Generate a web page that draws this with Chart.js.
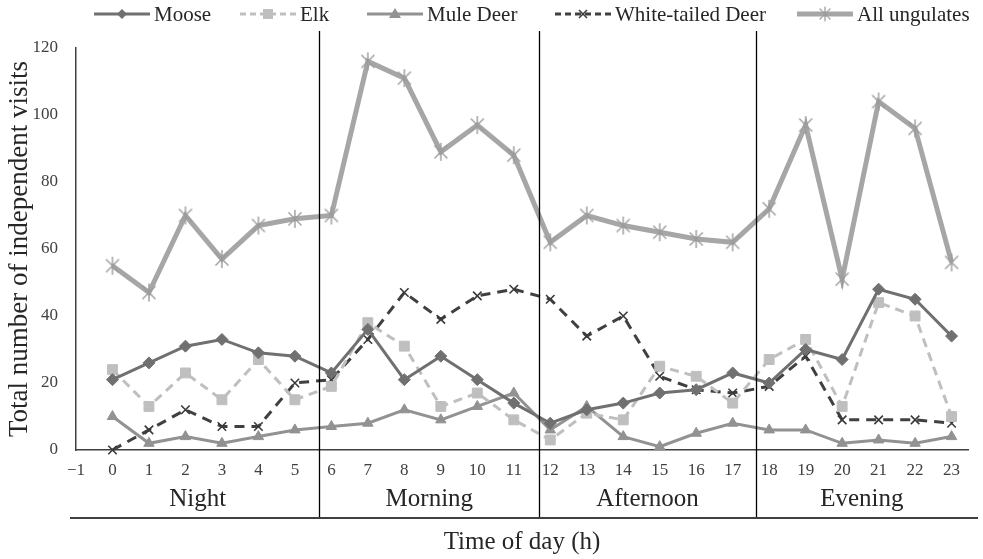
<!DOCTYPE html>
<html>
<head>
<meta charset="utf-8">
<script src="https://cdn.jsdelivr.net/npm/chart.js@4/dist/chart.umd.min.js"></script>
<style>
  html, body { margin: 0; padding: 0; background: #fff; }
  #wrap { width: 983px; height: 559px; }
</style>
</head>
<body>
<div id="wrap"><canvas id="visitsChart" width="983" height="559"></canvas></div>
<script>
'use strict';

// hour of day
var hours = [0, 1, 2, 3, 4, 5, 6, 7, 8, 9, 10, 11, 12, 13, 14, 15, 16, 17, 18, 19, 20, 21, 22, 23];

// independent visits per hour
var moose        = [21, 26, 31, 33, 29, 28, 23, 36, 21, 28, 21, 14, 8, 12, 14, 17, 18, 23, 20, 30, 27, 48, 45, 34];
var elk          = [24, 13, 23, 15, 27, 15, 19, 38, 31, 13, 17, 9, 3, 11, 9, 25, 22, 14, 27, 33, 13, 44, 40, 10];
var muleDeer     = [10, 2, 4, 2, 4, 6, 7, 8, 12, 9, 13, 17, 6, 13, 4, 1, 5, 8, 6, 6, 2, 3, 2, 4];
var whiteTailed  = [0, 6, 12, 7, 7, 20, 21, 33, 47, 39, 46, 48, 45, 34, 40, 22, 18, 17, 19, 28, 9, 9, 9, 8];
var allUngulates = [55, 47, 70, 57, 67, 69, 70, 116, 111, 89, 97, 88, 62, 70, 67, 65, 63, 62, 72, 97, 51, 104, 96, 56];

var seriesNames = ['Moose', 'Elk', 'Mule Deer', 'White-tailed Deer', 'All ungulates'];

// periods of the day and where one ends and the next begins (hours)
var periods = ['Night', 'Morning', 'Afternoon', 'Evening'];
var periodBreaks = [5.67, 11.7, 17.63];

// tick labels
var xTicks = [-1, 0, 1, 2, 3, 4, 5, 6, 7, 8, 9, 10, 11, 12, 13, 14, 15, 16, 17, 18, 19, 20, 21, 22, 23];
var yTicks = [0, 20, 40, 60, 80, 100, 120];

var FONT = '"Liberation Serif", "Times New Roman", serif';

function pts(values) {
  return hours.map(function(h, i) { return { x: h, y: values[i] }; });
}

// asterisk marker for the total line
function asterisk(color) {
  var c = document.createElement('canvas');
  c.width = 22; c.height = 22;
  var g = c.getContext('2d');
  g.strokeStyle = color;
  g.lineWidth = 1.4;
  g.beginPath();
  g.moveTo(11, 2); g.lineTo(11, 20);
  g.moveTo(4.5, 4.5); g.lineTo(17.5, 17.5);
  g.moveTo(17.5, 4.5); g.lineTo(4.5, 17.5);
  g.stroke();
  return c;
}
var starImg = asterisk('#9b9b9b');

var styles = [
  { color: '#707070', width: 3, dash: [], point: 'rectRot', radius: 6 },
  { color: '#bfbfbf', width: 3, dash: [9, 6], point: 'rect', radius: 7 },
  { color: '#929292', width: 3, dash: [], point: 'triangle', radius: 6 },
  { color: '#404040', width: 3, dash: [10, 7], point: 'crossRot', radius: 6 },
  { color: '#a6a6a6', width: 5, dash: [], point: starImg, radius: 10 }
];

var seriesValues = [moose, elk, muleDeer, whiteTailed, allUngulates];

var datasets = seriesValues.map(function(vals, i) {
  var s = styles[i];
  var cross = s.point === 'crossRot';
  return {
    label: seriesNames[i],
    data: pts(vals),
    borderColor: s.color,
    backgroundColor: s.color,
    borderWidth: s.width,
    borderDash: s.dash,
    pointStyle: s.point,
    pointRadius: s.radius,
    pointBorderWidth: cross ? 1.6 : 1,
    pointBorderColor: cross ? '#3a3a3a' : s.color,
    pointBackgroundColor: s.color,
    tension: 0,
    clip: false
  };
});

function drawMarker(ctx, kind, x, y, color) {
  ctx.save();
  ctx.setLineDash([]);
  ctx.fillStyle = color;
  ctx.strokeStyle = color;
  ctx.beginPath();
  if (kind === 'rectRot') {
    ctx.moveTo(x, y - 5); ctx.lineTo(x + 5, y); ctx.lineTo(x, y + 5); ctx.lineTo(x - 5, y);
    ctx.closePath(); ctx.fill();
  } else if (kind === 'rect') {
    ctx.rect(x - 5, y - 5, 10, 10); ctx.fill();
  } else if (kind === 'triangle') {
    ctx.moveTo(x, y - 6); ctx.lineTo(x + 6, y + 4); ctx.lineTo(x - 6, y + 4);
    ctx.closePath(); ctx.fill();
  } else if (kind === 'crossRot') {
    ctx.lineWidth = 1.5;
    ctx.moveTo(x - 4, y - 4); ctx.lineTo(x + 4, y + 4);
    ctx.moveTo(x + 4, y - 4); ctx.lineTo(x - 4, y + 4);
    ctx.stroke();
  } else {
    ctx.drawImage(kind, x - 9, y - 9, 18, 18);
  }
  ctx.restore();
}

// legend row, period labels, separators and axis titles
var decorations = {
  id: 'decorations',
  afterDraw: function(chart) {
    var ctx = chart.ctx;
    var area = chart.chartArea;
    var xs = chart.scales.x;

    ctx.save();

    // legend
    var legendX = [94, 240, 367, 555, 797];
    var ly = 14;
    ctx.font = '21px ' + FONT;
    ctx.textBaseline = 'middle';
    ctx.textAlign = 'left';
    styles.forEach(function(s, i) {
      var x0 = legendX[i];
      ctx.save();
      ctx.strokeStyle = s.color;
      ctx.lineWidth = s.width;
      ctx.setLineDash(s.dash.length ? [6, 4] : []);
      ctx.beginPath();
      ctx.moveTo(x0, ly); ctx.lineTo(x0 + 56, ly);
      ctx.stroke();
      ctx.restore();
      drawMarker(ctx, s.point, x0 + 28, ly, s.point === 'crossRot' ? '#3a3a3a' : s.color);
      ctx.fillStyle = '#262626';
      ctx.fillText(seriesNames[i], x0 + 60, ly + 1);
    });

    // period separators
    var sepY = 518;
    ctx.strokeStyle = '#000';
    ctx.lineWidth = 1.3;
    ctx.beginPath();
    periodBreaks.forEach(function(b) {
      var px = Math.round(xs.getPixelForValue(b)) + 0.5;
      ctx.moveTo(px, 31); ctx.lineTo(px, sepY);
    });
    ctx.stroke();

    ctx.strokeStyle = '#404040';
    ctx.lineWidth = 2;
    ctx.beginPath();
    ctx.moveTo(70, sepY); ctx.lineTo(978, sepY);
    ctx.stroke();

    // period names
    var edges = [area.left].concat(periodBreaks.map(function(b) { return xs.getPixelForValue(b); }), [area.right]);
    ctx.fillStyle = '#262626';
    ctx.font = '25px ' + FONT;
    ctx.textAlign = 'center';
    periods.forEach(function(p, i) {
      ctx.fillText(p, (edges[i] + edges[i + 1]) / 2, 499);
    });

    // axis titles
    ctx.fillText('Time of day (h)', (area.left + area.right) / 2, 542);
    ctx.font = '27px ' + FONT;
    ctx.translate(20, (area.top + area.bottom) / 2);
    ctx.rotate(-Math.PI / 2);
    ctx.fillText('Total number of independent visits', 0, 0);

    ctx.restore();
  }
};

var ctx = document.getElementById('visitsChart').getContext('2d');
var chart = new Chart(ctx, {
  type: 'line',
  data: { datasets: datasets },
  options: {
    responsive: false,
    animation: false,
    layout: { padding: { left: 0, right: 15, top: 48, bottom: 79 } },
    plugins: {
      legend: { display: false },
      tooltip: { enabled: false }
    },
    scales: {
      x: {
        type: 'linear',
        min: -1,
        max: 23.45,
        afterBuildTicks: function(scale) {
          scale.ticks = xTicks.map(function(v) { return { value: v }; });
        },
        afterFit: function(scale) { scale.height = 30; },
        grid: { display: false, drawTicks: false },
        border: { display: true, color: '#404040', width: 1.5 },
        ticks: {
          padding: 10,
          autoSkip: false,
          maxRotation: 0,
          color: '#404040',
          font: { family: FONT, size: 17 },
          callback: function(v) { return v < 0 ? '\u22121' : v; }
        }
      },
      y: {
        min: 0,
        max: 120,
        afterBuildTicks: function(scale) {
          scale.ticks = yTicks.map(function(v) { return { value: v }; });
        },
        afterFit: function(scale) { scale.width = 76; },
        grid: { display: false, drawTicks: false },
        border: { display: true, color: '#404040', width: 1.5 },
        ticks: {
          padding: 18,
          color: '#404040',
          font: { family: FONT, size: 17 }
        }
      }
    }
  },
  plugins: [decorations]
});
</script>
</body>
</html>
